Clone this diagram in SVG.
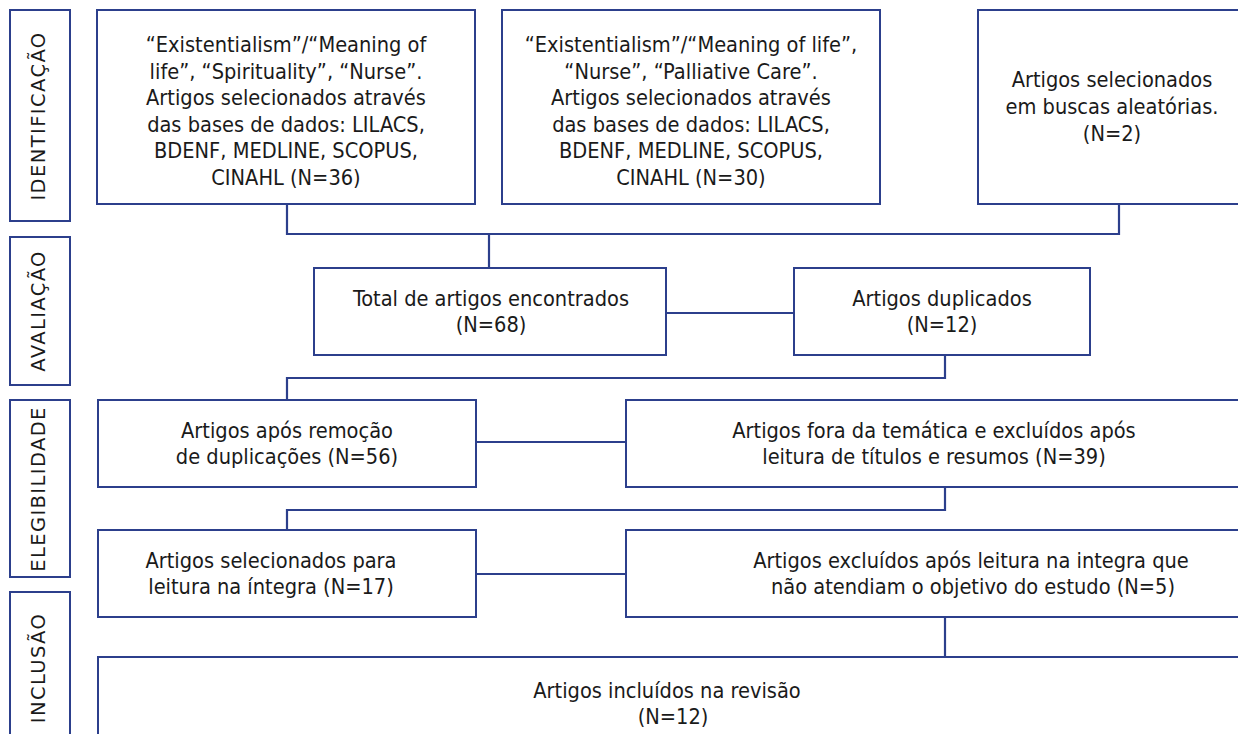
<svg xmlns="http://www.w3.org/2000/svg" width="1238" height="734" viewBox="0 0 1238 734">
<style>
.box{fill:#fff;stroke:#2c3f8c;stroke-width:2}
.ln{fill:none;stroke:#2c3f8c;stroke-width:2.2}
.t{font-family:"DejaVu Sans Condensed","DejaVu Sans",sans-serif;font-stretch:condensed;font-size:21.6px;fill:#1a1a1a;text-anchor:middle}
.s{font-family:"DejaVu Sans",sans-serif;font-size:19.5px;fill:#1a1a1a;text-anchor:middle;letter-spacing:1.4px}
</style>
<rect width="1238" height="734" fill="#fff"/>
<g id="connectors">
<polyline class="ln" points="287,204 287,234 1119,234 1119,204"/>
<line class="ln" x1="489" y1="234" x2="489" y2="268"/>
<line class="ln" x1="666" y1="313" x2="794" y2="313"/>
<polyline class="ln" points="945,355 945,378 287,378 287,400"/>
<line class="ln" x1="476" y1="442" x2="626" y2="442"/>
<polyline class="ln" points="945,487 945,510 287,510 287,530"/>
<line class="ln" x1="476" y1="574" x2="626" y2="574"/>
<line class="ln" x1="945" y1="617" x2="945" y2="657"/>
</g>
<g id="lbl-identificacao"><rect class="box" x="10" y="10" width="60" height="211"/><text class="s" transform="translate(45,116) rotate(-90)">IDENTIFICAÇÃO</text></g>
<g id="lbl-avaliacao"><rect class="box" x="10" y="237" width="60" height="148"/><text class="s" transform="translate(45,311) rotate(-90)">AVALIAÇÃO</text></g>
<g id="lbl-elegibilidade"><rect class="box" x="10" y="400" width="60" height="177"/><text class="s" transform="translate(45,489) rotate(-90)">ELEGIBILIDADE</text></g>
<g id="lbl-inclusao"><rect class="box" x="10" y="592" width="60" height="160"/><text class="s" transform="translate(45,668) rotate(-90)">INCLUSÃO</text></g>
<g id="n1"><rect class="box" x="97" y="10" width="378" height="194"/>
<text class="t" x="286" y="52">“Existentialism”/“Meaning of</text>
<text class="t" x="286" y="78.5">life”, “Spirituality”, “Nurse”.</text>
<text class="t" x="286" y="105">Artigos selecionados através</text>
<text class="t" x="286" y="131.5">das bases de dados: LILACS,</text>
<text class="t" x="286" y="158">BDENF, MEDLINE, SCOPUS,</text>
<text class="t" x="286" y="184.5">CINAHL (N=36)</text></g>
<g id="n2"><rect class="box" x="502" y="10" width="378" height="194"/>
<text class="t" x="691" y="52">“Existentialism”/“Meaning of life”,</text>
<text class="t" x="691" y="78.5">“Nurse”, “Palliative Care”.</text>
<text class="t" x="691" y="105">Artigos selecionados através</text>
<text class="t" x="691" y="131.5">das bases de dados: LILACS,</text>
<text class="t" x="691" y="158">BDENF, MEDLINE, SCOPUS,</text>
<text class="t" x="691" y="184.5">CINAHL (N=30)</text></g>
<g id="n3"><rect class="box" x="978" y="10" width="282" height="194"/>
<text class="t" x="1112" y="87">Artigos selecionados</text>
<text class="t" x="1112" y="114">em buscas aleatórias.</text>
<text class="t" x="1112" y="141">(N=2)</text></g>
<g id="n4"><rect class="box" x="314" y="268" width="352" height="87"/>
<text class="t" x="491" y="306">Total de artigos encontrados</text>
<text class="t" x="491" y="332">(N=68)</text></g>
<g id="n5"><rect class="box" x="794" y="268" width="296" height="87"/>
<text class="t" x="942" y="306">Artigos duplicados</text>
<text class="t" x="942" y="332">(N=12)</text></g>
<g id="n6"><rect class="box" x="98" y="400" width="378" height="87"/>
<text class="t" x="287" y="438">Artigos após remoção</text>
<text class="t" x="287" y="464">de duplicações (N=56)</text></g>
<g id="n7"><rect class="box" x="626" y="400" width="638" height="87"/>
<text class="t" x="934" y="438">Artigos fora da temática e excluídos após</text>
<text class="t" x="934" y="464">leitura de títulos e resumos (N=39)</text></g>
<g id="n8"><rect class="box" x="98" y="530" width="378" height="87"/>
<text class="t" x="271" y="568">Artigos selecionados para</text>
<text class="t" x="271" y="594">leitura na íntegra (N=17)</text></g>
<g id="n9"><rect class="box" x="626" y="530" width="638" height="87"/>
<text class="t" x="971" y="568">Artigos excluídos após leitura na integra que</text>
<text class="t" x="973" y="594">não atendiam o objetivo do estudo (N=5)</text></g>
<g id="n10"><rect class="box" x="98" y="657" width="1166" height="100"/>
<text class="t" x="667" y="698">Artigos incluídos na revisão</text>
<text class="t" x="673" y="724">(N=12)</text></g>
</svg>
